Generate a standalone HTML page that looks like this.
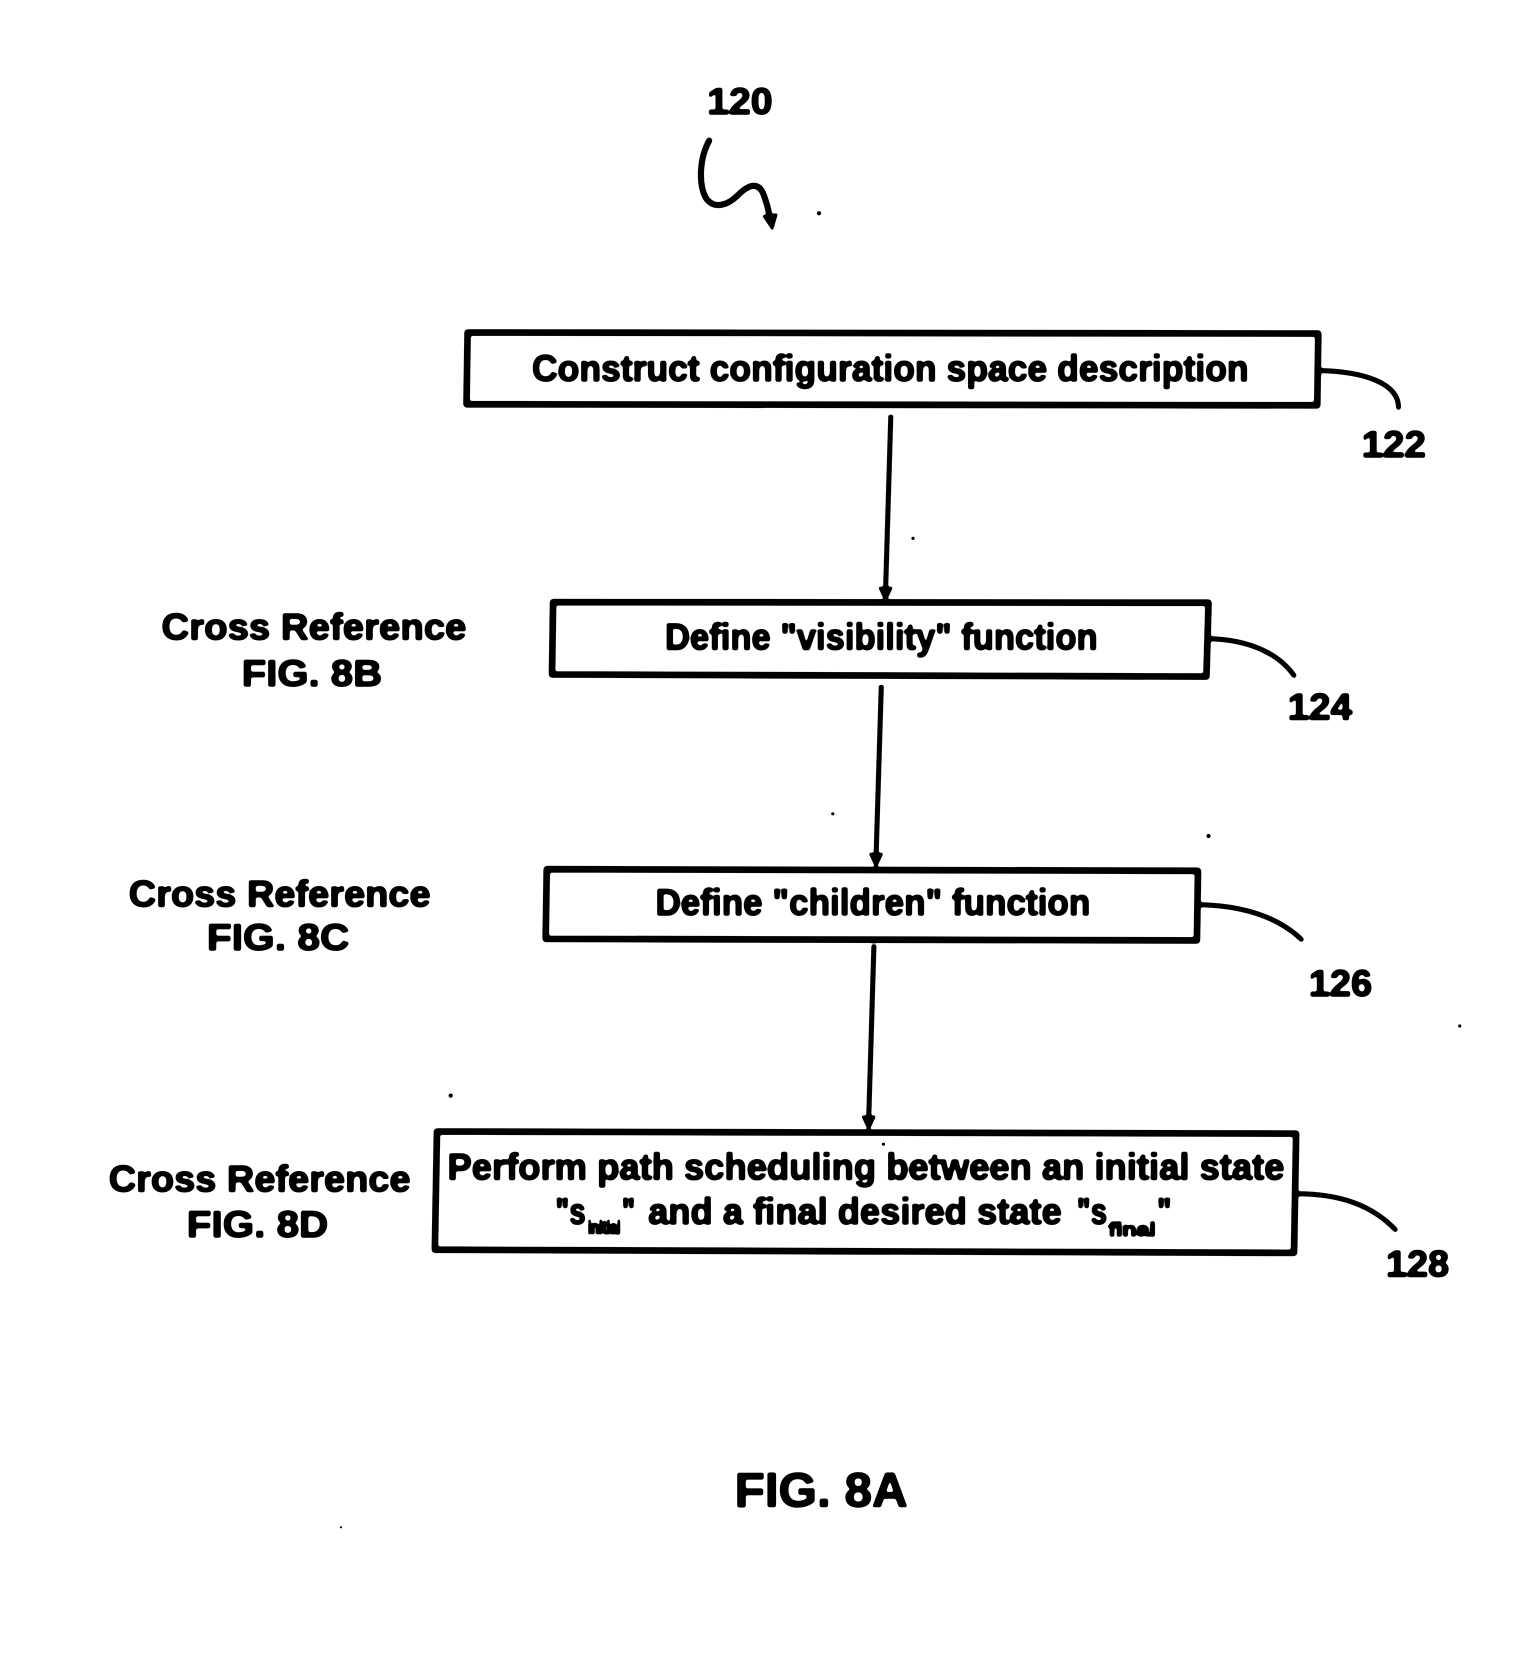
<!DOCTYPE html>
<html>
<head>
<meta charset="utf-8">
<style>
html,body{margin:0;padding:0;background:#fff;}
svg{display:block;}
text{font-family:"Liberation Sans",sans-serif;font-weight:bold;fill:#000;stroke:#000;stroke-width:1.1px;}
.b{font-size:35px;}
.l{font-size:35px;}
.n{font-size:35px;}
</style>
</head>
<body>
<svg width="1535" height="1654" viewBox="0 0 1454.3 1567" xmlns="http://www.w3.org/2000/svg">
<defs>
<filter id="ink" x="0" y="0" width="100%" height="100%" filterUnits="objectBoundingBox" color-interpolation-filters="sRGB">
<feGaussianBlur stdDeviation="0.9" in="SourceGraphic"/>
<feComponentTransfer>
<feFuncA type="linear" slope="5" intercept="-1.7"/>
</feComponentTransfer>
</filter>
</defs>
<rect x="0" y="0" width="1454.3" height="1567" fill="#fff"/>

<g filter="url(#ink)">
<rect x="0" y="0" width="1454.3" height="1567" fill="#000" fill-opacity="0"/>
<text class="n" x="670" y="108" textLength="62" lengthAdjust="spacingAndGlyphs">120</text>
<path d="M672 133C662 151 662 176 669 188C677 199 690 194 699 185C709 175 718 172 723 183C726 191 728 197 729 205" fill="none" stroke="#000" stroke-width="5.5" stroke-linecap="round"/>
<polygon points="722,204 737,202 732,219" fill="#000"/>

<g fill="none" stroke="#000" stroke-width="6" stroke-linejoin="round">
<polygon points="443,315 1249,316 1248,384 442,383"/>
<polygon points="524,570.5 1145,571 1143,641 523,639"/>
<polygon points="518,823.5 1135,825 1134,891 517,889.5"/>
<polygon points="414,1072 1228,1074 1226,1187 412,1184"/>
</g>

<text class="b" x="504" y="361" textLength="679" lengthAdjust="spacingAndGlyphs">Construct configuration space description</text>
<text class="b" x="630" y="615.5" textLength="410" lengthAdjust="spacingAndGlyphs">Define "visibility" function</text>
<text class="b" x="621" y="867" textLength="412" lengthAdjust="spacingAndGlyphs">Define "children" function</text>
<text class="b" x="424" y="1117.5" textLength="793" lengthAdjust="spacingAndGlyphs">Perform path scheduling between an initial state</text>
<text class="b" x="526" y="1159.5" textLength="29" lengthAdjust="spacingAndGlyphs">"s</text>
<text x="557" y="1169" font-size="18" textLength="31" lengthAdjust="spacingAndGlyphs">initial</text>
<text class="b" x="589" y="1159.5" textLength="13" lengthAdjust="spacingAndGlyphs">"</text>
<text class="b" x="614" y="1159.5" textLength="392" lengthAdjust="spacingAndGlyphs">and a final desired state</text>
<text class="b" x="1020" y="1159.5" textLength="29" lengthAdjust="spacingAndGlyphs">"s</text>
<text x="1050" y="1171" font-size="18" textLength="45" lengthAdjust="spacingAndGlyphs">final</text>
<text class="b" x="1096" y="1159.5" textLength="14" lengthAdjust="spacingAndGlyphs">"</text>

<g fill="none" stroke="#000" stroke-width="4.5">
<path d="M844 393L839 560"/>
<path d="M835 649L830 812"/>
<path d="M828 895L823 1061"/>
</g>
<polygon points="832,556 846,556 839,571" fill="#000"/>
<polygon points="823,808 837,808 830,823" fill="#000"/>
<polygon points="816,1057 830,1057 823,1072" fill="#000"/>

<g fill="none" stroke="#000" stroke-width="4.5" stroke-linecap="round">
<path d="M1250 351C1290 352 1325 362 1325 386"/>
<path d="M1145 605C1185 606 1212 620 1226 640"/>
<path d="M1136 857C1180 858 1212 870 1233 890"/>
<path d="M1228 1131C1270 1131 1300 1142 1322 1165"/>
</g>

<text class="n" x="1290" y="433" textLength="61" lengthAdjust="spacingAndGlyphs">122</text>
<text class="n" x="1220" y="681.5" textLength="61" lengthAdjust="spacingAndGlyphs">124</text>
<text class="n" x="1240" y="943.5" textLength="60" lengthAdjust="spacingAndGlyphs">126</text>
<text class="n" x="1313" y="1209.5" textLength="60" lengthAdjust="spacingAndGlyphs">128</text>

<text class="l" x="153" y="606" textLength="289" lengthAdjust="spacingAndGlyphs">Cross Reference</text>
<text class="l" x="229" y="650" textLength="133" lengthAdjust="spacingAndGlyphs">FIG. 8B</text>
<text class="l" x="122" y="859" textLength="286" lengthAdjust="spacingAndGlyphs">Cross Reference</text>
<text class="l" x="196" y="900" textLength="135" lengthAdjust="spacingAndGlyphs">FIG. 8C</text>
<text class="l" x="103" y="1129" textLength="286" lengthAdjust="spacingAndGlyphs">Cross Reference</text>
<text class="l" x="177" y="1172" textLength="134" lengthAdjust="spacingAndGlyphs">FIG. 8D</text>

<text x="696" y="1427.5" font-size="46" textLength="164" lengthAdjust="spacingAndGlyphs">FIG. 8A</text>
</g>

<g fill="#000">
<circle cx="776" cy="202" r="2"/>
<circle cx="865" cy="510" r="1.5"/>
<circle cx="789" cy="771" r="1.5"/>
<circle cx="1145" cy="792" r="2"/>
<circle cx="1383" cy="972" r="1.5"/>
<circle cx="427" cy="1038" r="2"/>
<circle cx="837" cy="1084" r="1.5"/>
<circle cx="323" cy="1447" r="1"/>
</g>
</svg>
</body>
</html>
